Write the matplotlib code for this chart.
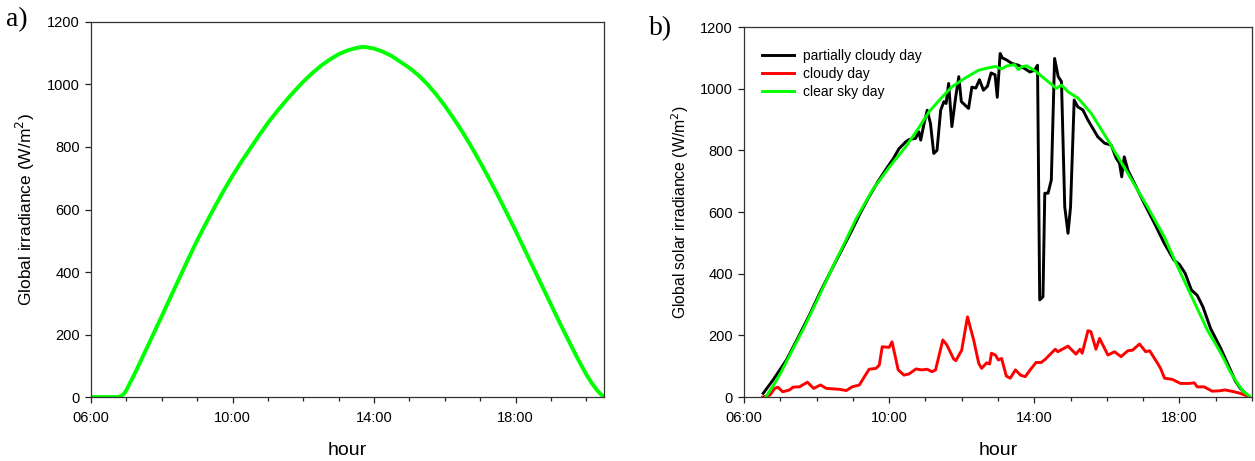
import matplotlib
matplotlib.use("Agg")
import matplotlib.pyplot as plt
from matplotlib.ticker import FixedLocator, MultipleLocator, FuncFormatter

plt.rcParams["font.family"] = ["Liberation Sans", "DejaVu Sans"]

# ---- panel a: modelled global irradiance (hour, W/m2)
hours_a = [6.0, 6.5, 6.75, 6.85, 6.93, 7.0, 7.25, 7.5, 7.75, 8.0, 8.25, 8.5,
           8.75, 9.0, 9.25, 9.5, 9.75, 10.0, 10.25, 10.5, 10.75, 11.0, 11.25,
           11.5, 11.75, 12.0, 12.25, 12.5, 12.75, 13.0, 13.25, 13.5, 13.65,
           13.75, 14.0, 14.25, 14.5, 14.75, 15.0, 15.25, 15.5, 15.75, 16.0,
           16.25, 16.5, 16.75, 17.0, 17.25, 17.5, 17.75, 18.0, 18.25, 18.5,
           18.75, 19.0, 19.25, 19.5, 19.75, 20.0, 20.15, 20.3, 20.4, 20.5]
irr_a = [0, 0, 0, 3, 10, 22, 78, 138, 198, 259, 320, 381,
         442, 501, 556, 609, 660, 708, 753, 795, 837, 877, 913,
         947, 979, 1009, 1036, 1060, 1080, 1097, 1109, 1117, 1120,
         1120, 1115, 1105, 1091, 1072, 1053, 1030, 1002, 969, 932,
         891, 848, 801, 751, 699, 645, 589, 532, 473, 414,
         355, 296, 237, 180, 124, 72, 45, 22, 10, 0]

# ---- panel b: measured days (hour, W/m2)
hours_part = [6.53, 6.8, 7.17, 7.5, 7.8, 8.1, 8.4, 8.7, 8.95, 9.2, 9.45, 9.7,
              9.95, 10.1, 10.27, 10.46, 10.55, 10.73, 10.82, 10.87, 10.96,
              11.05, 11.14, 11.23, 11.32, 11.42, 11.51, 11.57, 11.64, 11.73,
              11.83, 11.92, 11.99, 12.19, 12.28, 12.39, 12.49, 12.6, 12.71,
              12.81, 12.92, 12.98, 13.06, 13.12, 13.24, 13.38, 13.56, 13.74,
              13.88, 14.01, 14.09, 14.15, 14.24, 14.29, 14.38, 14.47, 14.56,
              14.66, 14.75, 14.84, 14.93, 15.0, 15.1, 15.2, 15.34, 15.48,
              15.75, 15.94, 16.12, 16.26, 16.35, 16.41, 16.48, 16.58, 16.76,
              17.03, 17.31, 17.58, 17.85, 18.0, 18.16, 18.33, 18.49, 18.65,
              18.86, 19.13, 19.36, 19.54, 19.68, 19.82, 19.9]
partly_cloudy = [12, 55, 120, 195, 265, 340, 410, 478, 535, 595, 650, 700,
                 745, 770, 805, 828, 835, 839, 860, 833, 885,
                 930, 887, 790, 800, 930, 958, 952, 1017, 877,
                 969, 1039, 958, 936, 1005, 1002, 1029, 995, 1008,
                 1051, 1045, 972, 1114, 1100, 1093, 1082, 1076, 1065,
                 1054, 1060, 1076, 315, 325, 661, 661, 704, 1098,
                 1039, 1023, 617, 531, 617, 963, 941, 931, 898,
                 844, 823, 817, 774, 758, 714, 779, 736, 693,
                 628, 564, 499, 444, 430, 401, 347, 330, 292,
                 222, 160, 100, 52, 28, 12, 3]

hours_cloudy = [6.52, 6.71, 6.85, 6.93, 7.07, 7.26, 7.35, 7.53, 7.75, 7.92,
                8.11, 8.27, 8.63, 8.82, 8.98, 9.18, 9.32, 9.45, 9.64, 9.73,
                9.81, 10.0, 10.08, 10.25, 10.41, 10.55, 10.74, 10.9, 11.05,
                11.18, 11.28, 11.48, 11.59, 11.78, 11.84, 12.0, 12.16, 12.33,
                12.47, 12.55, 12.69, 12.77, 12.82, 12.93, 13.01, 13.1, 13.23,
                13.34, 13.48, 13.62, 13.75, 13.92, 14.05, 14.19, 14.3, 14.58,
                14.65, 14.93, 15.15, 15.26, 15.32, 15.48, 15.56, 15.7, 15.8,
                16.03, 16.21, 16.39, 16.58, 16.71, 16.9, 17.07, 17.18, 17.4,
                17.48, 17.59, 17.81, 18.03, 18.27, 18.41, 18.49, 18.68, 18.9,
                19.1, 19.26, 19.51, 19.67, 19.92]
cloudy = [0, 6, 28, 32, 17, 23, 32, 33, 48, 28,
          39, 28, 25, 21, 33, 39, 66, 90, 93, 104,
          163, 161, 179, 88, 71, 75, 91, 88, 90,
          82, 88, 185, 169, 123, 118, 152, 260, 185,
          109, 93, 111, 107, 142, 136, 120, 125, 68,
          61, 88, 71, 66, 93, 112, 112, 122, 155,
          147, 165, 139, 155, 142, 215, 212, 155, 190,
          136, 147, 131, 150, 152, 172, 147, 150, 109,
          93, 61, 57, 44, 44, 46, 33, 33, 19,
          20, 23, 17, 12, 1]

hours_clear = [6.6, 6.8, 7.0, 7.3, 7.62, 7.9, 8.2, 8.5, 8.81, 9.1, 9.54, 10.0,
               10.46, 10.8, 11.1, 11.4, 11.73, 12.1, 12.47, 12.71, 12.93,
               13.09, 13.25, 13.46, 13.56, 13.65, 13.79, 14.02, 14.38, 14.61,
               14.75, 14.93, 15.21, 15.57, 16.03, 16.58, 17.12, 17.58, 17.95,
               18.22, 18.5, 18.77, 19.04, 19.22, 19.4, 19.6, 19.77, 19.92]
clear_sky = [0, 35, 75, 145, 217, 285, 360, 435, 509, 580, 671, 745,
             812, 870, 925, 965, 1006, 1035, 1060, 1067, 1072,
             1064, 1074, 1078, 1062, 1071, 1074, 1058, 1023, 1001,
             1012, 990, 969, 920, 833, 725, 617, 520, 423,
             355, 285, 217, 163, 125, 82, 44, 17, 4]

GREEN = "#00ff00"
RED = "#ff0000"


def hhmm(x, pos):
    return "%02d:00" % int(round(x))


def style_axes(ax, xmax):
    ax.set_xlim(6, xmax)
    ax.set_ylim(0, 1200)
    ax.xaxis.set_major_locator(FixedLocator([6, 10, 14, 18]))
    ax.xaxis.set_minor_locator(MultipleLocator(1))
    ax.xaxis.set_major_formatter(FuncFormatter(hhmm))
    ax.yaxis.set_major_locator(MultipleLocator(200))
    ax.tick_params(axis="both", which="major", direction="out", length=4,
                   width=0.9, labelsize=10.5, pad=4, colors="#222222",
                   labelcolor="black")
    ax.tick_params(axis="x", which="minor", direction="out", length=3,
                   width=0.9, colors="#222222")
    ax.tick_params(axis="x", which="major", pad=6)
    for sp in ax.spines.values():
        sp.set_linewidth(0.9)
        sp.set_color("#333333")
    ax.set_xlabel("hour", fontsize=14, labelpad=12)


fig = plt.figure(figsize=(12.55, 4.61), dpi=100)
ax1 = fig.add_axes([0.0725, 0.1388, 0.4088, 0.8135])
ax2 = fig.add_axes([0.5928, 0.1388, 0.4048, 0.8026])

# panel a
ax1.plot(hours_a, irr_a, color=GREEN, lw=2.8, solid_capstyle="round")
style_axes(ax1, 20.5)
ax1.set_ylabel("Global irradiance (W/m$^2$)", fontsize=12.5, labelpad=7)

# panel b
ax2.plot(hours_part, partly_cloudy, color="black", lw=2.1,
         label="partially cloudy day")
ax2.plot(hours_cloudy, cloudy, color=RED, lw=2.1, label="cloudy day")
ax2.plot(hours_clear, clear_sky, color=GREEN, lw=2.1, label="clear sky day")
style_axes(ax2, 20)
ax2.set_ylabel("Global solar irradiance (W/m$^2$)", fontsize=11.3,
               labelpad=6.5)
ax2.legend(loc="upper left", bbox_to_anchor=(0.035, 0.94), frameon=False,
           fontsize=10, handlelength=2.3, handletextpad=0.65,
           labelspacing=0.28, borderpad=0, borderaxespad=0)

fig.text(0.005, 0.957, "a)", family=["Liberation Serif", "DejaVu Serif"],
         fontsize=20, va="center", ha="left")
fig.text(0.517, 0.937, "b)", family=["Liberation Serif", "DejaVu Serif"],
         fontsize=20, va="center", ha="left")

fig.savefig("out.png", dpi=100)
